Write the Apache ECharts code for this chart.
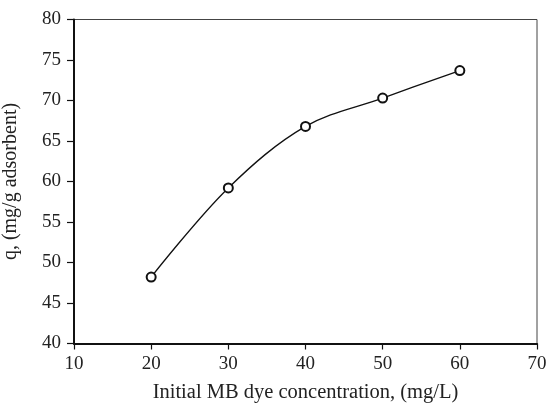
<!DOCTYPE html>
<html>
<head>
<meta charset="utf-8">
<script src="https://cdn.jsdelivr.net/npm/echarts@6/dist/echarts.min.js"></script>
<style>html,body{margin:0;padding:0;background:#fff}#c{width:547px;height:404px}</style>
</head>
<body>
<div id="c"></div>
<script>
const concentrations = [20, 30, 40, 50, 60];
const qValues = [48.2, 59.2, 66.8, 70.3, 73.7];
const xTicks = [10, 20, 30, 40, 50, 60, 70];
const yTicks = [40, 45, 50, 55, 60, 65, 70, 75, 80];
const xTitle = 'Initial MB dye concentration, (mg/L)';
const yTitle = 'q, (mg/g adsorbent)';

const font = '"Liberation Serif", "Times New Roman", serif';
const chart = echarts.init(document.getElementById('c'), null, {renderer: 'canvas'});
chart.setOption({
  animation: false,
  backgroundColor: '#fff',
  grid: {left: 74, right: 10, top: 19.5, bottom: 60.5, show: true, borderColor: '#444', borderWidth: 1,
         containLabel: false, outerBoundsMode: 'none'},
  xAxis: {
    type: 'value', min: xTicks[0], max: xTicks[xTicks.length - 1], interval: 10,
    name: xTitle, nameLocation: 'middle', nameGap: 39,
    nameTextStyle: {fontFamily: font, fontSize: 20.5, color: '#222'},
    axisLine: {lineStyle: {color: '#111', width: 2}},
    axisTick: {show: true, length: 6, lineStyle: {color: '#111', width: 1.2}},
    axisLabel: {fontFamily: font, fontSize: 19, color: '#222', margin: 11},
    splitLine: {show: false}
  },
  yAxis: {
    type: 'value', min: yTicks[0], max: yTicks[yTicks.length - 1], interval: 5,
    name: yTitle, nameLocation: 'middle', nameGap: 53, nameRotate: 90,
    nameTextStyle: {fontFamily: font, fontSize: 20, color: '#222'},
    axisLine: {lineStyle: {color: '#111', width: 2}},
    axisTick: {show: true, length: 7, lineStyle: {color: '#111', width: 1.2}},
    axisLabel: {fontFamily: font, fontSize: 19, color: '#222', margin: 13},
    splitLine: {show: false}
  },
  series: [{
    type: 'line',
    data: concentrations.map((x, i) => [x, qValues[i]]),
    smooth: 0.35,
    symbol: 'emptyCircle', symbolSize: 9,
    lineStyle: {color: '#111', width: 1.3},
    itemStyle: {color: '#111', borderWidth: 1.2}
  }]
});
</script>
</body>
</html>
